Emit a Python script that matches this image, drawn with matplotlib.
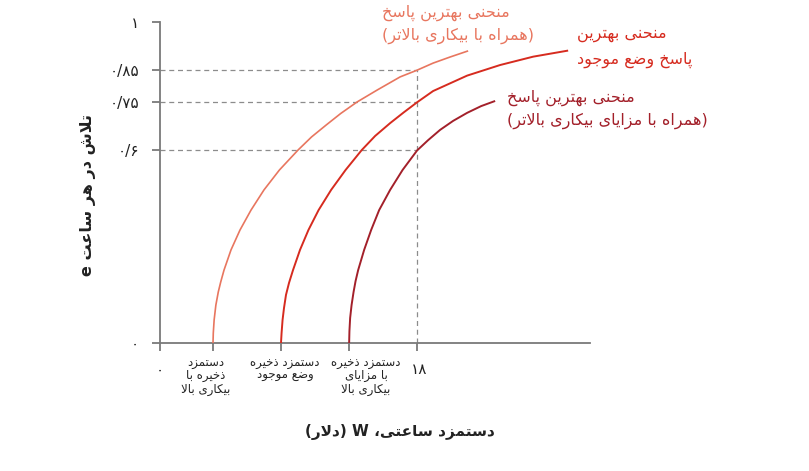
import matplotlib
matplotlib.use("Agg")
import matplotlib.pyplot as plt

# ---------------- data ----------------
# hourly wage W (dollars) and effort per hour e, points along each best-response curve
w_high_unemp = [3.71, 3.73, 3.79, 3.91, 4.08, 4.25, 4.48, 4.97, 5.60, 6.37, 7.28, 8.36,
                9.66, 10.61, 11.63, 12.65, 13.80, 15.20, 16.81, 18.0, 19.12, 20.31, 21.57]
e_high_unemp = [0.000, 0.031, 0.072, 0.118, 0.159, 0.190, 0.227, 0.290, 0.352, 0.414, 0.477,
                0.539, 0.601, 0.642, 0.679, 0.715, 0.751, 0.788, 0.829, 0.850, 0.872, 0.891,
                0.910]

w_current = [8.47, 8.51, 8.58, 8.68, 8.82, 9.03, 9.31, 9.80, 10.39, 11.10, 11.98, 12.99,
             14.12, 15.06, 16.11, 17.05, 18.0, 19.12, 21.50, 23.81, 26.12, 28.57]
e_current = [0.000, 0.031, 0.072, 0.109, 0.150, 0.187, 0.227, 0.290, 0.352, 0.414, 0.477,
             0.539, 0.601, 0.645, 0.685, 0.718, 0.750, 0.785, 0.833, 0.866, 0.892, 0.911]

w_high_benefit = [13.24, 13.26, 13.31, 13.41, 13.55, 13.69, 13.87, 14.29, 14.78, 15.34,
                  16.11, 16.98, 18.0, 18.77, 19.61, 20.52, 21.50, 22.48, 23.46]
e_high_benefit = [0.000, 0.037, 0.078, 0.118, 0.159, 0.193, 0.227, 0.290, 0.352, 0.414,
                  0.477, 0.539, 0.600, 0.632, 0.664, 0.692, 0.717, 0.738, 0.754]

reservation_wages = [3.71, 8.47, 13.24]
reference_wage = 18.0
reference_efforts = [0.85, 0.75, 0.6]

y_ticks = [0, 0.6, 0.75, 0.85, 1]
y_tick_labels = ["۰", "۰/۶", "۰/۷۵", "۰/۸۵", "۱"]
x_tick_labels = {0: "۰", 18: "۱۸"}

reservation_labels = [
    ["دستمزد", "ذخیره با", "بیکاری بالا"],
    ["دستمزد ذخیره", "وضع موجود"],
    ["دستمزد ذخیره", "با مزایای", "بیکاری بالا"],
]
curve_labels = [
    ["منحنی بهترین پاسخ", "(همراه با بیکاری بالاتر)"],
    ["منحنی بهترین", "پاسخ وضع موجود"],
    ["منحنی بهترین پاسخ", "(همراه با مزایای بیکاری بالاتر)"],
]
x_label = "دستمزد ساعتی، W (دلار)"
y_label = "تلاش در هر ساعت e"

# ---------------- simple Persian shaping + RTL ----------------
FORMS = {
    "ا": ("\uFE8D", "\uFE8E", None, None),
    "آ": ("\uFE81", "\uFE82", None, None),
    "ب": ("\uFE8F", "\uFE90", "\uFE91", "\uFE92"),
    "پ": ("\uFB56", "\uFB57", "\uFB58", "\uFB59"),
    "ت": ("\uFE95", "\uFE96", "\uFE97", "\uFE98"),
    "ث": ("\uFE99", "\uFE9A", "\uFE9B", "\uFE9C"),
    "ج": ("\uFE9D", "\uFE9E", "\uFE9F", "\uFEA0"),
    "چ": ("\uFB7A", "\uFB7B", "\uFB7C", "\uFB7D"),
    "ح": ("\uFEA1", "\uFEA2", "\uFEA3", "\uFEA4"),
    "خ": ("\uFEA5", "\uFEA6", "\uFEA7", "\uFEA8"),
    "د": ("\uFEA9", "\uFEAA", None, None),
    "ذ": ("\uFEAB", "\uFEAC", None, None),
    "ر": ("\uFEAD", "\uFEAE", None, None),
    "ز": ("\uFEAF", "\uFEB0", None, None),
    "ژ": ("\uFB8A", "\uFB8B", None, None),
    "س": ("\uFEB1", "\uFEB2", "\uFEB3", "\uFEB4"),
    "ش": ("\uFEB5", "\uFEB6", "\uFEB7", "\uFEB8"),
    "ص": ("\uFEB9", "\uFEBA", "\uFEBB", "\uFEBC"),
    "ض": ("\uFEBD", "\uFEBE", "\uFEBF", "\uFEC0"),
    "ط": ("\uFEC1", "\uFEC2", "\uFEC3", "\uFEC4"),
    "ظ": ("\uFEC5", "\uFEC6", "\uFEC7", "\uFEC8"),
    "ع": ("\uFEC9", "\uFECA", "\uFECB", "\uFECC"),
    "غ": ("\uFECD", "\uFECE", "\uFECF", "\uFED0"),
    "ف": ("\uFED1", "\uFED2", "\uFED3", "\uFED4"),
    "ق": ("\uFED5", "\uFED6", "\uFED7", "\uFED8"),
    "ک": ("\uFB8E", "\uFB8F", "\uFB90", "\uFB91"),
    "گ": ("\uFB92", "\uFB93", "\uFB94", "\uFB95"),
    "ل": ("\uFEDD", "\uFEDE", "\uFEDF", "\uFEE0"),
    "م": ("\uFEE1", "\uFEE2", "\uFEE3", "\uFEE4"),
    "ن": ("\uFEE5", "\uFEE6", "\uFEE7", "\uFEE8"),
    "ه": ("\uFEE9", "\uFEEA", "\uFEEB", "\uFEEC"),
    "و": ("\uFEED", "\uFEEE", None, None),
    "ی": ("\uFBFC", "\uFBFD", "\uFBFE", "\uFBFF"),
}


def _dual(c):
    return c in FORMS and FORMS[c][2] is not None


def fa(s):
    chars = list(s)
    n = len(chars)
    res = []
    i = 0
    while i < n:
        c = chars[i]
        if c not in FORMS:
            res.append(c)
            i += 1
            continue
        prev = chars[i - 1] if i > 0 else None
        nxt = chars[i + 1] if i + 1 < n else None
        cp = _dual(prev)
        if c == "ل" and nxt == "ا":
            res.append("\uFEFC" if cp else "\uFEFB")
            i += 2
            continue
        cn = _dual(c) and (nxt in FORMS)
        iso, fin, ini, med = FORMS[c]
        if cp and cn:
            res.append(med)
        elif cp:
            res.append(fin)
        elif cn:
            res.append(ini)
        else:
            res.append(iso)
        i += 1
    out = "".join(reversed(res))
    out = out.replace("(", "\0").replace(")", "(").replace("\0", ")")
    return out


# ---------------- figure ----------------
plt.rcParams["font.family"] = ["DejaVu Sans"]
W, H = 809, 471
fig = plt.figure(figsize=(W / 100, H / 100), dpi=100)
ax = fig.add_axes([160 / W, 1 - 343 / H, (590 - 160) / W, (343 - 22) / H])
ax.set_xlim(0, 30.1)
ax.set_ylim(0, 1)

axis_col = "#7a7a7a"
dash_col = "#8c8c8c"
c_light = "#e8765f"
c_mid = "#d62b1f"
c_dark = "#a3202a"

for sp in ["top", "right"]:
    ax.spines[sp].set_visible(False)
for sp in ["left", "bottom"]:
    ax.spines[sp].set_color(axis_col)
    ax.spines[sp].set_linewidth(1.3)

# dashed guides
for e in reference_efforts:
    ax.plot([0, reference_wage], [e, e], color=dash_col, lw=0.9, ls=(0, (4, 3)), zorder=1)
ax.plot([reference_wage, reference_wage], [0, max(reference_efforts)], color=dash_col,
        lw=0.9, ls=(0, (4, 3)), zorder=1)

# curves
ax.plot(w_high_unemp, e_high_unemp, color=c_light, lw=1.2, zorder=3,
        solid_capstyle="butt", solid_joinstyle="round")
ax.plot(w_current, e_current, color=c_mid, lw=1.4, zorder=3,
        solid_capstyle="butt", solid_joinstyle="round")
ax.plot(w_high_benefit, e_high_benefit, color=c_dark, lw=1.4, zorder=3,
        solid_capstyle="butt", solid_joinstyle="round")

# ticks
ax.set_yticks(y_ticks)
ax.set_yticklabels(y_tick_labels, fontsize=11, color="#222222")
ax.tick_params(axis="y", direction="out", length=6, width=1.3, color=axis_col, pad=9)
x_ticks = [0] + reservation_wages + [reference_wage]
ax.set_xticks(x_ticks)
ax.set_xticklabels([""] * len(x_ticks))
ax.tick_params(axis="x", direction="out", length=6, width=1.3, color=axis_col)

px = 1 / 321.0  # effort units per pixel
for xv, lab in x_tick_labels.items():
    ax.text(xv + (0.15 if xv else 0), -27 * px, lab, ha="center", va="center",
            fontsize=11, color="#222222", clip_on=False)

res_centers = [206, 285, 366]
for cx, lines in zip(res_centers, reservation_labels):
    for k, line in enumerate(lines):
        ax.text((cx - 160) / 14.28, -(20 + 13 * k) * px, fa(line), ha="center", va="center",
                fontsize=8.5, color="#222222", clip_on=False)

# curve labels
label_pos = [(382, [13, 36], c_light), (577, [35, 60], c_mid), (507, [98, 121], c_dark)]
for (lx, ys, col), lines in zip(label_pos, curve_labels):
    for yy, line in zip(ys, lines):
        ax.text((lx - 160) / 14.28, (343 - yy) * px, fa(line), ha="left", va="center",
                fontsize=11.5, color=col, clip_on=False)

# axis labels
ax.text((400 - 160) / 14.28, -(432 - 343) * px, fa(x_label), ha="center", va="center",
        fontsize=11, fontweight="bold", color="#222222", clip_on=False)
ax.text((88 - 160) / 14.28, (343 - 195) * px, fa(y_label), ha="center", va="center",
        rotation=90, fontsize=11.5, fontweight="bold", color="#222222", clip_on=False)

fig.savefig("out.png", dpi=100)
